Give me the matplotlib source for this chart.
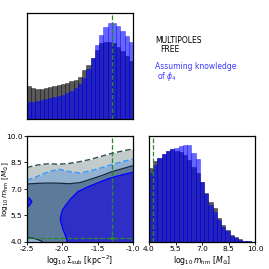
import numpy as np
import matplotlib
matplotlib.use("Agg")
import matplotlib.pyplot as plt

# --- data ------------------------------------------------------------------
sigma_range = (-2.5, -1.0)
mhm_range = (4.0, 10.0)
n_bins = 25
truth_sigma = -1.3
truth_mhm = 4.2

# 1D marginal of log10 Sigma_sub (fraction of panel height)
sigma_free = [0.31, 0.295, 0.285, 0.285, 0.29, 0.30, 0.31, 0.32, 0.33, 0.34,
              0.355, 0.37, 0.40, 0.46, 0.51, 0.58, 0.65, 0.72, 0.73, 0.73,
              0.72, 0.68, 0.64, 0.59, 0.55]
sigma_phi4 = [0.16, 0.16, 0.17, 0.18, 0.19, 0.20, 0.21, 0.22, 0.23, 0.245,
              0.26, 0.29, 0.33, 0.39, 0.47, 0.58, 0.70, 0.79, 0.87, 0.91,
              0.91, 0.88, 0.83, 0.78, 0.73]

# 1D marginal of log10 m_hm
mhm_free = [0.70, 0.76, 0.79, 0.83, 0.86, 0.875, 0.86, 0.85, 0.82, 0.77,
            0.71, 0.65, 0.57, 0.46, 0.38, 0.32, 0.225, 0.16, 0.113, 0.066,
            0.044, 0.025, 0.013, 0.006, 0.003]
mhm_phi4 = [0.65, 0.73, 0.79, 0.83, 0.855, 0.875, 0.89, 0.905, 0.915, 0.915,
            0.84, 0.78, 0.57, 0.45, 0.35, 0.28, 0.205, 0.145, 0.105, 0.06,
            0.04, 0.022, 0.012, 0.006, 0.003]

# 2D contour boundaries (upper edges) sampled along log10 Sigma_sub
sig_grid = [-2.5, -2.35, -2.2, -2.05, -1.9, -1.75, -1.6, -1.45, -1.3, -1.15, -1.0]
free_95 = [8.22, 8.36, 8.43, 8.40, 8.45, 8.55, 8.68, 8.85, 9.02, 9.15, 9.27]
phi4_95 = [7.50, 7.72, 7.97, 8.12, 7.98, 7.90, 8.03, 8.20, 8.38, 8.55, 8.70]
free_68 = [7.28, 7.32, 7.34, 7.33, 7.30, 7.36, 7.55, 7.75, 7.98, 8.15, 8.32]

# blue 68% region outline
phi4_68_x = [-1.93, -1.95, -1.99, -2.02, -2.03, -2.00, -1.95, -1.88, -1.78,
             -1.65, -1.50, -1.35, -1.20, -1.00]
phi4_68_y = [4.00, 4.30, 4.70, 5.10, 5.35, 5.80, 6.10, 6.45, 6.85,
             7.10, 7.35, 7.58, 7.76, 7.95]
island_x = [-2.50, -2.46, -2.43, -2.46, -2.50]
island_y = [5.95, 6.10, 6.28, 6.45, 6.55]
hole_x = [-2.50, -2.42, -2.35, -2.30, -2.28]
hole_y = [4.25, 4.22, 4.14, 4.06, 4.00]

# --- style -----------------------------------------------------------------
plt.rcParams['font.family'] = 'DejaVu Sans'
plt.rcParams['mathtext.fontset'] = 'dejavusans'
fs = 5.3
c_free = 'black'
c_phi4 = 'blue'
c_truth = '#2a8a2a'

fig = plt.figure(figsize=(2.69, 2.69), dpi=100)
W = 269.0
ax_top = fig.add_axes([27/W, 1-119/W, 106/W, 106/W])
ax_2d = fig.add_axes([27/W, 1-242/W, 106/W, 106/W])
ax_r = fig.add_axes([149/W, 1-242/W, 106/W, 106/W])

for ax in (ax_top, ax_2d, ax_r):
    for s in ax.spines.values():
        s.set_linewidth(0.9)
    ax.tick_params(labelsize=fs, length=2, width=0.6, pad=1.2)

# top histogram
edges = np.linspace(sigma_range[0], sigma_range[1], n_bins + 1)
w = edges[1] - edges[0]
ax_top.bar(edges[:-1], sigma_free, width=w, align='edge', color=c_free,
           alpha=0.65, edgecolor='black', linewidth=0.4)
ax_top.bar(edges[:-1], sigma_phi4, width=w, align='edge', color=c_phi4,
           alpha=0.6, edgecolor='blue', linewidth=0.4)
ax_top.axvline(truth_sigma, color=c_truth, ls='--', lw=0.9)
ax_top.set_xlim(*sigma_range)
ax_top.set_ylim(0, 1)
ax_top.set_xticks([])
ax_top.set_yticks([])

# right histogram
edges_m = np.linspace(mhm_range[0], mhm_range[1], n_bins + 1)
wm = edges_m[1] - edges_m[0]
ax_r.bar(edges_m[:-1], mhm_free, width=wm, align='edge', color=c_free,
         alpha=0.65, edgecolor='black', linewidth=0.4)
ax_r.bar(edges_m[:-1], mhm_phi4, width=wm, align='edge', color=c_phi4,
         alpha=0.6, edgecolor='blue', linewidth=0.4)
ax_r.axvline(truth_mhm, color=c_truth, ls='--', lw=0.9)
ax_r.set_xlim(*mhm_range)
ax_r.set_ylim(0, 1)
ax_r.set_yticks([])
ax_r.set_xticks([4.0, 5.5, 7.0, 8.5, 10.0])
ax_r.set_xticklabels(['4.0', '5.5', '7.0', '8.5', '10.0'])
ax_r.set_xlabel(r'$\log_{10}m_{\rm hm}$ [$M_{\odot}$]', fontsize=fs + 0.3, labelpad=1)

# 2D panel
base = [mhm_range[0]] * len(sig_grid)
ax_2d.fill_between(sig_grid, base, free_95, color='#c3cbcb', lw=0)
ax_2d.fill_between(sig_grid, base, phi4_95, color='#93b2d2', lw=0)
ax_2d.fill_between(sig_grid, base, free_68, color='#5c7b9a', lw=0)
ax_2d.fill(phi4_68_x + [sigma_range[1]], phi4_68_y + [mhm_range[0]],
           color='#2f2fc6', lw=0)
ax_2d.fill(island_x, island_y, color='#2f2fc6', lw=0)
ax_2d.fill(hole_x + [sigma_range[0]], hole_y + [mhm_range[0]], color='#93b2d2', lw=0)
ax_2d.plot(sig_grid, free_95, color='#2f4f4f', ls='--', lw=1.0, dashes=(4, 2))
ax_2d.plot(sig_grid, phi4_95, color='#3399ff', ls='--', lw=1.0, dashes=(4, 2))
ax_2d.plot(sig_grid, free_68, color='#14283c', lw=0.9)
ax_2d.plot(hole_x, hole_y, color='#14283c', lw=0.9)
ax_2d.plot(phi4_68_x, phi4_68_y, color='blue', lw=0.9)
ax_2d.plot(island_x, island_y, color='blue', lw=0.9)
ax_2d.axvline(truth_sigma, color=c_truth, ls='--', lw=0.9)
ax_2d.axhline(truth_mhm, color=c_truth, ls='--', lw=0.9)
ax_2d.plot(truth_sigma, truth_mhm, marker='s', ms=1.5, color=c_truth)
ax_2d.set_xlim(*sigma_range)
ax_2d.set_ylim(*mhm_range)
ax_2d.set_xticks([-2.5, -2.0, -1.5, -1.0])
ax_2d.set_xticklabels(['-2.5', '-2.0', '-1.5', '-1.0'])
ax_2d.set_yticks([4.0, 5.5, 7.0, 8.5, 10.0])
ax_2d.set_yticklabels(['4.0', '5.5', '7.0', '8.5', '10.0'])
ax_2d.set_xlabel(r'$\log_{10}\Sigma_{\rm sub}$ [kpc$^{-2}$]', fontsize=fs + 0.3, labelpad=1)
ax_2d.set_ylabel(r'$\log_{10}m_{\rm hm}$ [$M_{\odot}$]', fontsize=fs)
ax_2d.yaxis.set_label_coords(-0.15, 0.5)

# legend-like text
fig.text(155/W, 1-36/W, 'MULTIPOLES', fontsize=fs + 0.2, va='top', ha='left', color='black')
fig.text(160/W, 1-45/W, 'FREE', fontsize=fs + 0.2, va='top', ha='left', color='black')
fig.text(155/W, 1-62/W, 'Assuming knowledge', fontsize=fs + 0.2, va='top', ha='left', color='#3a3aff')
fig.text(157/W, 1-70/W, r'of $\phi_4$', fontsize=fs + 0.2, va='top', ha='left', color='#3a3aff')

plt.savefig('out.png', dpi=100)
